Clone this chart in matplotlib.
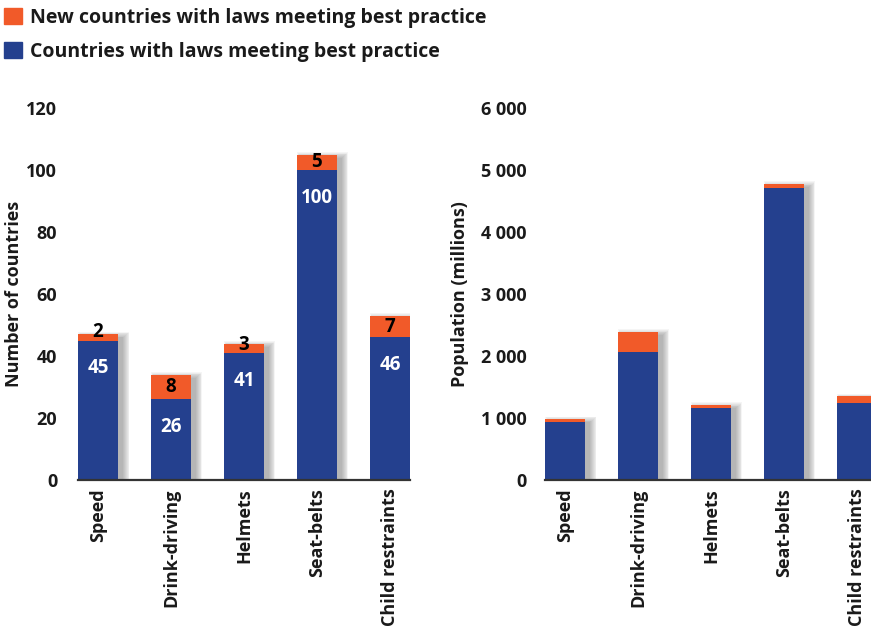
import matplotlib
matplotlib.use("Agg")
import matplotlib.pyplot as plt
from matplotlib.patches import Patch

categories = ["Speed", "Drink-driving", "Helmets", "Seat-belts", "Child restraints"]
countries_base = [45, 26, 41, 100, 46]
countries_new = [2, 8, 3, 5, 7]
pop_base = [940, 2070, 1160, 4710, 1240]
pop_new = [40, 320, 50, 65, 110]
left_ticks = [0, 20, 40, 60, 80, 100, 120]
right_ticks = [0, 1000, 2000, 3000, 4000, 5000, 6000]
right_tick_labels = ["0", "1 000", "2 000", "3 000", "4 000", "5 000", "6 000"]

BLUE = "#24408e"
ORANGE = "#f15a29"
TXT = "#1a1a1a"

plt.rcParams["font.family"] = ["Open Sans", "DejaVu Sans"]
plt.rcParams["font.weight"] = "bold"
plt.rcParams["axes.labelweight"] = "bold"

W, H = 871, 631
fig = plt.figure(figsize=(W / 100, H / 100), dpi=100)
ax1 = fig.add_axes([78 / W, 151 / H, 332 / W, 372 / H])
ax2 = fig.add_axes([545 / W, 151 / H, 332 / W, 372 / H])

x = list(range(len(categories)))
w = 0.55
for ax, base, new, top in [(ax1, countries_base, countries_new, 120),
                           (ax2, pop_base, pop_new, 6000)]:
    ax.set_xlim(-w / 2, len(categories) - 1 + w / 2)
    ax.set_ylim(0, top)
    # size of one pixel in data units
    px = (len(categories) - 1 + w) / 332
    py = top / 372
    totals = [b + n for b, n in zip(base, new)]
    # soft drop shadow: stacked translucent grey boxes, shifted right
    for k in range(8):
        g = 0.8 * k
        ax.bar([xi + (5 + 0.1 * k) * px for xi in x],
               [t + (g - 3) * py for t in totals],
               width=w + 2 * g * px, color="black", alpha=0.04, zorder=1,
               linewidth=0)
    ax.bar(x, base, width=w, color=BLUE, zorder=2)
    ax.bar(x, new, width=w, bottom=base, color=ORANGE, zorder=2)
    ax.set_xticks(x)
    ax.set_xticklabels(categories, rotation=90, fontsize=13, color=TXT,
                       va="top", ha="center")
    for s in ["top", "right", "left"]:
        ax.spines[s].set_visible(False)
    ax.spines["bottom"].set_color("#333333")
    ax.spines["bottom"].set_linewidth(1.6)
    ax.spines["bottom"].set_zorder(3)
    ax.tick_params(length=0)
    ax.tick_params(axis="x", pad=6)

ax1.set_yticks(left_ticks)
ax1.set_yticklabels([str(t) for t in left_ticks], fontsize=13, color=TXT)
ax1.tick_params(axis="y", pad=15)
ax1.set_ylabel("Number of countries", fontsize=13, color=TXT)
ax1.yaxis.set_label_coords(-0.165, 0.5)

ax2.set_yticks(right_ticks)
ax2.set_yticklabels(right_tick_labels, fontsize=13, color=TXT)
ax2.tick_params(axis="y", pad=13)
ax2.set_ylabel("Population (millions)", fontsize=13, color=TXT)
ax2.yaxis.set_label_coords(-0.23, 0.5)

for i, (b, n) in enumerate(zip(countries_base, countries_new)):
    ax1.text(i, b - 9, str(b), ha="center", va="center", color="white",
             fontsize=13.5, fontweight="bold", zorder=4)
    ax1.text(i, b + max(n / 2, 2.6), str(n), ha="center", va="center",
             color="black", fontsize=13.5, fontweight="bold", zorder=4)

handles = [Patch(color=ORANGE), Patch(color=BLUE)]
labels = ["New countries with laws meeting best practice",
          "Countries with laws meeting best practice"]
fig.legend(handles, labels, loc="upper left", bbox_to_anchor=(4 / W, 1 - 8 / H),
           borderaxespad=0, borderpad=0, frameon=False, handlelength=0.9,
           handleheight=0.9, handletextpad=0.45, labelspacing=0.7,
           fontsize=14, labelcolor=TXT)

fig.savefig("out.png", dpi=100)
